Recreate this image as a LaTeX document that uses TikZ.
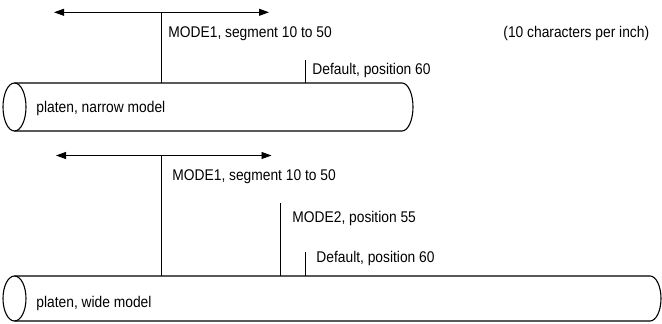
\documentclass[tikz,border=0pt]{standalone}
\usepackage{fontspec}
\setmainfont{Liberation Sans}[FakeStretch=0.89]
\usetikzlibrary{arrows.meta}
\begin{document}
\begin{tikzpicture}[x=1pt,y=-1pt,line width=0.9pt,
  lbl/.style={anchor=base west,inner sep=0pt,font=\fontsize{15.5}{18}\selectfont},
  span/.style={{Triangle[length=10pt,width=7pt]}-{Triangle[length=10pt,width=7pt]}},
  platen/.style={line width=1.1pt}]
\useasboundingbox (0,0) rectangle (662,324);

% ---- narrow platen ----
\draw[platen] (14.5,107) ellipse[x radius=11.5,y radius=24];
\draw[platen] (14.5,83) -- (402,83) arc[start angle=-90,end angle=90,x radius=11,y radius=24] -- (14.5,131);
\node[lbl] (narrow) at (36,112) {platen, narrow model};

\coordinate (nL) at (54,12.3);
\coordinate (nR) at (269,12.3);
\coordinate (nM) at (161,12.3);
\coordinate (nMb) at (161,83);
\coordinate (nDt) at (305,60);
\coordinate (nDb) at (305,83);
\draw[span] (nL) -- (nR);
\draw (nM) -- (nMb);
\draw (nDt) -- (nDb);
\node[lbl] (nmode1) at (168,37.7) {MODE1, segment 10 to 50};
\node[lbl] (ndef) at (312,74) {Default, position 60};
\node[lbl] (cpi) at (503,37.5) {(10 characters per inch)};

% ---- wide platen ----
\draw[platen] (14.5,298.5) ellipse[x radius=11.5,y radius=22.5];
\draw[platen] (14.5,276) -- (650,276) arc[start angle=-90,end angle=90,x radius=11,y radius=22.5] -- (14.5,321);
\node[lbl] (wide) at (36,307) {platen, wide model};

\coordinate (wL) at (56,155.5);
\coordinate (wR) at (271.5,155.5);
\coordinate (wM) at (161,155.5);
\coordinate (wMb) at (161,276);
\coordinate (w2t) at (280.7,203);
\coordinate (w2b) at (280.7,276);
\coordinate (wDt) at (305,252);
\coordinate (wDb) at (305,276);
\draw[span] (wL) -- (wR);
\draw (wM) -- (wMb);
\draw (w2t) -- (w2b);
\draw (wDt) -- (wDb);
\node[lbl] (wmode1) at (172,180) {MODE1, segment 10 to 50};
\node[lbl] (wmode2) at (292,222.5) {MODE2, position 55};
\node[lbl] (wdef) at (316,262.5) {Default, position 60};
\end{tikzpicture}
\end{document}
